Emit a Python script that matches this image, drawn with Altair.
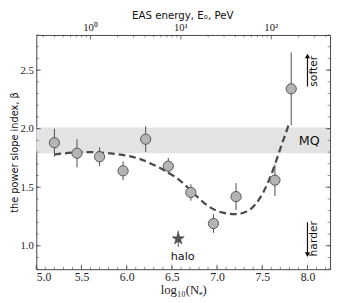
import math
import altair as alt
import pandas as pd

# ---------------- data ----------------
ne = [5.2, 5.45, 5.7, 5.96, 6.21, 6.46, 6.71, 6.96, 7.21, 7.64, 7.82]
beta = [1.88, 1.79, 1.76, 1.64, 1.91, 1.68, 1.455, 1.19, 1.42, 1.56, 2.34]
err = [0.12, 0.12, 0.08, 0.08, 0.11, 0.07, 0.07, 0.08, 0.115, 0.135, 0.31]

halo_x = [6.57]
halo_y = [1.06]
halo_err = [0.07]

curve_x = [5.2, 5.4, 5.6, 5.8, 6.0, 6.15, 6.3, 6.45, 6.6, 6.75, 6.9, 7.05, 7.2, 7.32, 7.42, 7.52, 7.62, 7.7, 7.8]
curve_y = [1.78, 1.795, 1.80, 1.79, 1.77, 1.74, 1.69, 1.63, 1.55, 1.44, 1.34, 1.285, 1.27, 1.29, 1.35, 1.47, 1.65, 1.83, 2.05]

mq_lo = [1.79]
mq_hi = [2.01]

x_ticks = [5.0, 5.5, 6.0, 6.5, 7.0, 7.5, 8.0]
y_ticks = [1.0, 1.5, 2.0, 2.5]
x_minor = [round(5.0 + 0.1 * i, 2) for i in range(33)]
y_minor = [round(0.8 + 0.1 * i, 2) for i in range(21)]

top_origin = 5.6
top_labels = ["10⁰", "10¹", "10²"]
top_major = [top_origin + d for d in range(3)]
top_minor = [top_origin + math.log10(k * 10.0 ** d) for d in range(-1, 3) for k in range(2, 10)]
top_minor = [v for v in top_minor if 5.0 <= v <= 8.25]

W, H = 301, 240
GRAY = "#4a4a4a"
SANS = "DejaVu Sans"
SERIF = "Liberation Serif"

# five-pointed star symbol path (unit size)
_pts = []
for i in range(10):
    r = 1.0 if i % 2 == 0 else 0.4
    a = -math.pi / 2 + i * math.pi / 5
    _pts.append(f"{r * math.cos(a):.3f},{r * math.sin(a):.3f}")
STAR = "M" + "L".join(_pts) + "Z"

xs = alt.Scale(domain=[5.0, 8.25], nice=False, zero=False)
ys = alt.Scale(domain=[0.8, 2.8], nice=False, zero=False)
xaxis = alt.Axis(values=x_ticks, format=".1f", ticks=False, domain=False, grid=False, orient="bottom",
                 labelFont=SERIF, labelFontSize=12, labelPadding=3, labelColor="#222",
                 title="log₁₀(Nₑ)", titleFont=SERIF, titleFontSize=13, titleFontWeight="normal",
                 titlePadding=1, titleColor="#222")
yaxis = alt.Axis(values=y_ticks, format=".1f", ticks=False, domain=False, grid=False, orient="left",
                 labelFont=SERIF, labelFontSize=11, labelPadding=3, labelColor="#222",
                 title="the power slope index, β", titleFont=SANS, titleFontSize=10,
                 titleFontWeight="normal", titlePadding=0, titleColor="#111")


def X(f):
    return alt.X(f, type="quantitative", scale=xs, axis=xaxis)


def Y(f):
    return alt.Y(f, type="quantitative", scale=ys, axis=yaxis)


pts = pd.DataFrame({"x": ne, "y": beta, "lo": [b - e for b, e in zip(beta, err)],
                    "hi": [b + e for b, e in zip(beta, err)]})
halo = pd.DataFrame({"x": halo_x, "y": halo_y, "lo": [a - b for a, b in zip(halo_y, halo_err)],
                     "hi": [a + b for a, b in zip(halo_y, halo_err)]})
curve = pd.DataFrame({"x": curve_x, "y": curve_y})
band = pd.DataFrame({"lo": mq_lo, "hi": mq_hi})

band_l = alt.Chart(band).mark_rect(color="#e3e3e3").encode(
    x=alt.value(0), x2=alt.value(W), y=Y("lo"), y2=alt.Y2("hi"))

curve_l = alt.Chart(curve).mark_line(color=GRAY, strokeWidth=2.3, strokeDash=[7, 4],
                                     interpolate="monotone").encode(x=X("x"), y=Y("y"))

err_l = alt.Chart(pts).mark_rule(color=GRAY, strokeWidth=1).encode(x=X("x"), y=Y("lo"), y2=alt.Y2("hi"))
pt_l = alt.Chart(pts).mark_point(filled=True, shape="circle", size=110, fill="#b4b4b4",
                                 stroke="#555", strokeWidth=1, opacity=1).encode(x=X("x"), y=Y("y"))

herr_l = alt.Chart(halo).mark_rule(color=GRAY, strokeWidth=1).encode(x=X("x"), y=Y("lo"), y2=alt.Y2("hi"))
star_l = alt.Chart(halo).mark_point(filled=True, shape=STAR, size=170, fill="#555",
                                    stroke="#333", strokeWidth=0.5, opacity=1).encode(x=X("x"), y=Y("y"))

# arrows
arrows = pd.DataFrame({"x": [8.0, 8.0], "y": [2.36, 1.20], "y2": [2.61, 0.94]})
arr_l = alt.Chart(arrows).mark_rule(color="#111", strokeWidth=1.2).encode(x=X("x"), y=Y("y"), y2=alt.Y2("y2"))
up = pd.DataFrame({"x": [8.0], "y": [2.62]})
dn = pd.DataFrame({"x": [8.0], "y": [0.925]})
up_l = alt.Chart(up).mark_point(filled=True, shape="triangle-up", size=30, color="#111", opacity=1).encode(
    x=X("x"), y=Y("y"))
dn_l = alt.Chart(dn).mark_point(filled=True, shape="triangle-down", size=30, color="#111", opacity=1).encode(
    x=X("x"), y=Y("y"))

labels = pd.DataFrame({"x": [8.075, 8.075], "y": [2.49, 1.06], "t": ["softer", "harder"]})
lab_l = alt.Chart(labels).mark_text(font=SANS, fontSize=11, angle=270, align="center",
                                    baseline="middle", color="#111").encode(x=X("x"), y=Y("y"), text="t")
mq = pd.DataFrame({"x": [8.02], "y": [1.895], "t": ["MQ"]})
mq_l = alt.Chart(mq).mark_text(font=SANS, fontSize=13, align="center", baseline="middle",
                               color="#111").encode(x=X("x"), y=Y("y"), text="t")
hl = pd.DataFrame({"x": [6.62], "y": [0.905], "t": ["halo"]})
hl_l = alt.Chart(hl).mark_text(font=SANS, fontSize=11.5, align="center", baseline="middle",
                               color="#111").encode(x=X("x"), y=Y("y"), text="t")

# inward ticks
TC = "#444"
xmaj = pd.DataFrame({"x": x_ticks})
xmin = pd.DataFrame({"x": x_minor})
ymaj = pd.DataFrame({"y": y_ticks})
ymin = pd.DataFrame({"y": y_minor})
tmaj = pd.DataFrame({"x": top_major, "t": top_labels})
tmin = pd.DataFrame({"x": top_minor})
ticks = [
    alt.Chart(xmaj).mark_rule(color=TC, strokeWidth=0.8).encode(x=X("x"), y=alt.value(H), y2=alt.value(H - 4.5)),
    alt.Chart(xmin).mark_rule(color=TC, strokeWidth=0.6).encode(x=X("x"), y=alt.value(H), y2=alt.value(H - 2.5)),
    alt.Chart(ymaj).mark_rule(color=TC, strokeWidth=0.8).encode(y=Y("y"), x=alt.value(0), x2=alt.value(4.5)),
    alt.Chart(ymin).mark_rule(color=TC, strokeWidth=0.6).encode(y=Y("y"), x=alt.value(0), x2=alt.value(2.5)),
    alt.Chart(ymaj).mark_rule(color=TC, strokeWidth=0.8).encode(y=Y("y"), x=alt.value(W), x2=alt.value(W - 4.5)),
    alt.Chart(ymin).mark_rule(color=TC, strokeWidth=0.6).encode(y=Y("y"), x=alt.value(W), x2=alt.value(W - 2.5)),
    alt.Chart(tmaj).mark_rule(color=TC, strokeWidth=0.8).encode(x=X("x"), y=alt.value(0), y2=alt.value(4.5)),
    alt.Chart(tmin).mark_rule(color=TC, strokeWidth=0.6).encode(x=X("x"), y=alt.value(0), y2=alt.value(2.5)),
]
top_lab = alt.Chart(tmaj).mark_text(font=SERIF, fontSize=11, baseline="middle", align="center",
                                    color="#222").encode(x=X("x"), y=alt.value(-7.5), text="t")
tt = pd.DataFrame({"x": [6.62], "t": ["EAS energy,  E₀,  PeV"]})
top_title = alt.Chart(tt).mark_text(font=SANS, fontSize=10.5, baseline="alphabetic", align="center",
                                    color="#111").encode(x=X("x"), y=alt.value(-16.5), text="t")

chart = alt.layer(band_l, curve_l, err_l, pt_l, herr_l, star_l, arr_l, up_l, dn_l, lab_l, mq_l, hl_l,
                  *ticks, top_lab, top_title).properties(
    width=W, height=H,
    autosize=alt.AutoSizeParams(type="none"),
    padding={"left": 29, "top": 24, "right": 3, "bottom": 31},
).configure_view(stroke="#444", strokeWidth=1)

chart.save("out.html", embed_options={"renderer": "svg", "actions": False})
